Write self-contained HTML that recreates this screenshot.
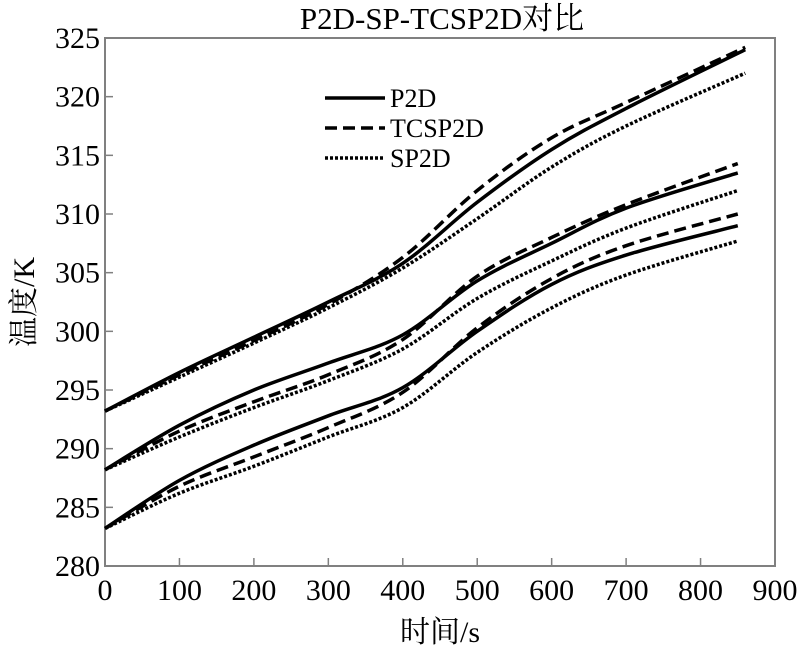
<!DOCTYPE html>
<html><head><meta charset="utf-8"><style>
body{margin:0;background:#fff}
text{font-family:"Liberation Serif","Noto Serif CJK SC",serif;fill:#000}
</style></head><body>
<svg id="s" width="800" height="651" xmlns="http://www.w3.org/2000/svg">
<text x="442" y="29" font-size="31" text-anchor="middle">P2D-SP-TCSP2D对比</text>
<rect x="105" y="38" width="670" height="528" fill="none" stroke="#808080" stroke-width="2"/>
<g id="ticks" stroke="#808080" stroke-width="1.5"></g>
<g id="lbl" font-size="30"></g>
<text x="440" y="642" font-size="30" text-anchor="middle">时间/s</text>
<text transform="translate(34,302) rotate(-90)" font-size="30" text-anchor="middle">温度/K</text>
<g id="curves" fill="none" stroke="#000" stroke-width="3.5"></g>
<g stroke="#000" stroke-width="3.5">
<line x1="325" y1="98" x2="385" y2="98"/>
<line x1="325" y1="128" x2="385" y2="128" stroke-dasharray="12,6"/>
<line x1="325" y1="158" x2="385" y2="158" stroke-dasharray="3,2"/>
</g>
<text x="390" y="107" font-size="26">P2D</text>
<text x="390" y="137" font-size="26">TCSP2D</text>
<text x="390" y="167" font-size="26">SP2D</text>
</svg>
<script>
var X=function(v){return 105+v*670/900},Y=function(v){return 566-(v-280)*528/45};
var ns="http://www.w3.org/2000/svg";
function el(p,t,a,txt){var e=document.createElementNS(ns,t);for(var k in a)e.setAttribute(k,a[k]);if(txt!=null)e.textContent=txt;document.getElementById(p).appendChild(e);}
for(var i=0;i<=9;i++){var x=X(i*100);if(i>0&&i<9)el("ticks","line",{x1:x,y1:566,x2:x,y2:558});el("lbl","text",{x:x,y:600,"text-anchor":"middle"},i*100);}
for(var j=0;j<=9;j++){var v=280+j*5,y=Y(v);if(j>0&&j<9)el("ticks","line",{x1:105,y1:y,x2:113,y2:y});el("lbl","text",{x:100,y:y+10,"text-anchor":"end"},v);}
var xs=[0,100,200,300,400,500,600,700,860];
var xs2=[0,100,200,300,400,500,600,700,850];
var data=[
[xs,[293.2,296.5,299.5,302.5,305.8,311,315.5,319,324],""],
[xs,[293.2,296.3,299.2,302.3,306.3,312,316.5,319.5,324.2],"12,6"],
[xs,[293.2,296.1,299,302,305.4,309.6,314,317.5,322],"3,2"],
[xs2,[288.2,292,295,297.3,299.7,304.3,307.5,310.5,313.5],""],
[xs2,[288.2,291.5,294,296.3,299.3,304.7,308,310.8,314.3],"12,6"],
[xs2,[288.2,291,293.5,295.8,298.5,302.8,306,308.8,312],"3,2"],
[xs2,[283.2,287.3,290.3,292.8,295.2,300,304,306.5,309],""],
[xs2,[283.2,286.8,289.3,291.8,294.8,300.3,304.5,307.3,310],"12,6"],
[xs2,[283.2,286.2,288.5,291,293.5,298.2,302,304.8,307.7],"3,2"]];
data.forEach(function(d){
 var p=d[0].map(function(x,i){return [X(x),Y(d[1][i])]});
 var s="M"+p[0][0]+","+p[0][1];
 for(var i=0;i<p.length-1;i++){var p0=p[i-1]||p[i],p1=p[i],p2=p[i+1],p3=p[i+2]||p2;
  s+=" C"+(p1[0]+(p2[0]-p0[0])/6)+","+(p1[1]+(p2[1]-p0[1])/6)+" "+(p2[0]-(p3[0]-p1[0])/6)+","+(p2[1]-(p3[1]-p1[1])/6)+" "+p2[0]+","+p2[1];}
 var a={d:s};if(d[2])a["stroke-dasharray"]=d[2];el("curves","path",a);
});
</script>
</body></html>
